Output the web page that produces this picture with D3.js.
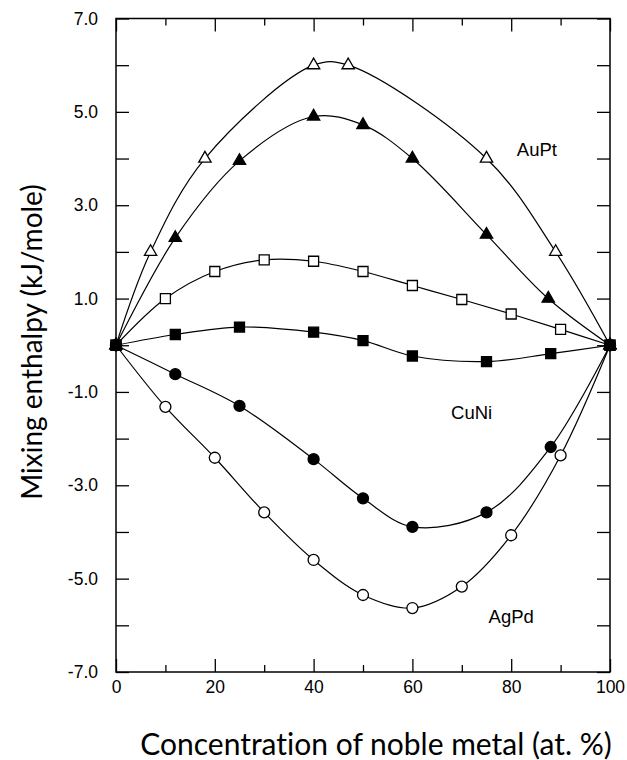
<!DOCTYPE html>
<html lang="en">
<head>
  <meta charset="UTF-8">
  <title>Mixing enthalpy</title>
  <script src="https://cdn.jsdelivr.net/npm/d3@7"></script>
  <style>
    body { margin: 0; background: #fff; }
    text { font-family: "Liberation Sans", Arial, sans-serif; }
    .title { font-family: Lato, "Open Sans", sans-serif; font-variant-ligatures: none; }
  </style>
</head>
<body>
  <svg id="chart"></svg>
  <script>
    // data: [concentration, enthalpy]
    var auptOpen   = [[0,0],[7,2.0],[18,4.0],[40,6.0],[47,6.0],[75,4.0],[89,2.0],[100,0]];
    var auptFilled = [[0,0],[12,2.3],[25,3.95],[40,4.9],[50,4.72],[60,4.0],[75,2.37],[87.5,1.0],[100,0]];
    var cuniOpen   = [[0,0],[10,1.0],[20,1.58],[30,1.83],[40,1.8],[50,1.58],[60,1.28],[70,0.98],[80,0.67],[90,0.34],[100,0]];
    var cuniFilled = [[0,0],[12,0.23],[25,0.39],[40,0.28],[50,0.1],[60,-0.23],[75,-0.35],[88,-0.18],[100,0]];
    var agpdFilled = [[0,0],[12,-0.62],[25,-1.3],[40,-2.44],[50,-3.28],[60,-3.89],[75,-3.58],[88,-2.18],[100,0]];
    var agpdOpen   = [[0,0],[10,-1.32],[20,-2.41],[30,-3.58],[40,-4.6],[50,-5.35],[60,-5.63],[70,-5.17],[80,-4.07],[90,-2.36],[100,0]];

    var xMajor = [0, 20, 40, 60, 80, 100];
    var xMinor = [10, 30, 50, 70, 90];
    var yTicks = d3.range(-7, 8, 1);

    var labels = [
      { name: "AuPt", x: 85.2, y: 4.19 },
      { name: "CuNi", x: 72, y: -1.44 },
      { name: "AgPd", x: 80, y: -5.82 }
    ];

    var series = [
      { data: agpdOpen,   shape: "circle",   filled: false },
      { data: agpdFilled, shape: "circle",   filled: true },
      { data: cuniOpen,   shape: "square",   filled: false },
      { data: auptOpen,   shape: "triangle", filled: false },
      { data: auptFilled, shape: "triangle", filled: true },
      { data: cuniFilled, shape: "square",   filled: true }
    ];

    var width = 627, height = 760;
    var margin = { top: 18.5, left: 116, right: 17, bottom: 88 };

    var svg = d3.select("#chart")
        .attr("width", width)
        .attr("height", height);

    var x = d3.scaleLinear().domain([0, 100]).range([margin.left, width - margin.right]);
    var y = d3.scaleLinear().domain([-7, 7]).range([height - margin.bottom, margin.top]);

    // axes, ticks pointing inward
    svg.append("g")
        .attr("transform", "translate(0," + y(-7) + ")")
        .call(d3.axisBottom(x).tickValues(xMajor).tickSize(-13).tickPadding(9))
        .call(g => g.select(".domain").remove());
    svg.append("g")
        .attr("transform", "translate(0," + y(-7) + ")")
        .call(d3.axisBottom(x).tickValues(xMinor).tickSize(-7).tickFormat(""))
        .call(g => g.select(".domain").remove());
    svg.append("g")
        .attr("transform", "translate(0," + y(7) + ")")
        .call(d3.axisTop(x).tickValues(xMajor).tickSize(-13).tickFormat(""))
        .call(g => g.select(".domain").remove());
    svg.append("g")
        .attr("transform", "translate(0," + y(7) + ")")
        .call(d3.axisTop(x).tickValues(xMinor).tickSize(-7).tickFormat(""))
        .call(g => g.select(".domain").remove());
    svg.append("g")
        .attr("transform", "translate(" + x(0) + ",0)")
        .call(d3.axisLeft(y).tickValues(yTicks).tickSize(-13).tickPadding(18)
            .tickFormat(d => d % 2 ? d.toFixed(1) : ""))
        .call(g => g.select(".domain").remove());
    svg.append("g")
        .attr("transform", "translate(" + x(100) + ",0)")
        .call(d3.axisRight(y).tickValues(yTicks).tickSize(-13).tickFormat(""))
        .call(g => g.select(".domain").remove());

    svg.selectAll(".tick line").attr("stroke", "#000").attr("stroke-width", 1.3);
    svg.selectAll(".tick text")
        .attr("fill", "#000")
        .style("font-size", "17.5px")
        .style("font-family", "'Liberation Sans', Arial, sans-serif");

    svg.append("rect")
        .attr("x", x(0)).attr("y", y(7))
        .attr("width", x(100) - x(0)).attr("height", y(-7) - y(7))
        .attr("fill", "none").attr("stroke", "#000").attr("stroke-width", 1.5);

    // fitted curves
    var line = d3.line()
        .x(d => x(d[0]))
        .y(d => y(d[1]))
        .curve(d3.curveCatmullRom.alpha(0.5));

    svg.append("g").selectAll("path")
        .data(series)
        .enter()
        .append("path")
        .attr("d", d => line(d.data))
        .attr("fill", "none")
        .attr("stroke", "#000")
        .attr("stroke-width", 1.2);

    // markers
    var symbols = {
      circle:   d3.symbol().type(d3.symbolCircle).size(95),
      square:   d3.symbol().type(d3.symbolSquare).size(100),
      triangle: d3.symbol().type(d3.symbolTriangle).size(66)
    };

    series.forEach(function(s) {
      svg.append("g").selectAll("path")
          .data(s.data)
          .enter()
          .append("path")
          .attr("transform", d => "translate(" + x(d[0]) + "," + y(d[1]) + ")")
          .attr("d", symbols[s.shape]())
          .attr("fill", s.filled ? "#000" : "#fff")
          .attr("stroke", "#000")
          .attr("stroke-width", 1.3);
    });

    svg.append("g").selectAll("text")
        .data(labels)
        .enter()
        .append("text")
        .attr("x", d => x(d.x))
        .attr("y", d => y(d.y))
        .attr("dy", "0.35em")
        .attr("text-anchor", "middle")
        .style("font-size", "18.5px")
        .text(d => d.name);

    // axis titles
    svg.append("text")
        .attr("class", "title")
        .attr("x", 376)
        .attr("y", 755)
        .attr("text-anchor", "middle")
        .style("font-size", "30px")
        .text("Concentration of noble metal (at. %)");

    svg.append("text")
        .attr("class", "title")
        .attr("transform", "translate(42,342) rotate(-90)")
        .attr("text-anchor", "middle")
        .style("font-size", "28px")
        .text("Mixing enthalpy (kJ/mole)");
  </script>
</body>
</html>
